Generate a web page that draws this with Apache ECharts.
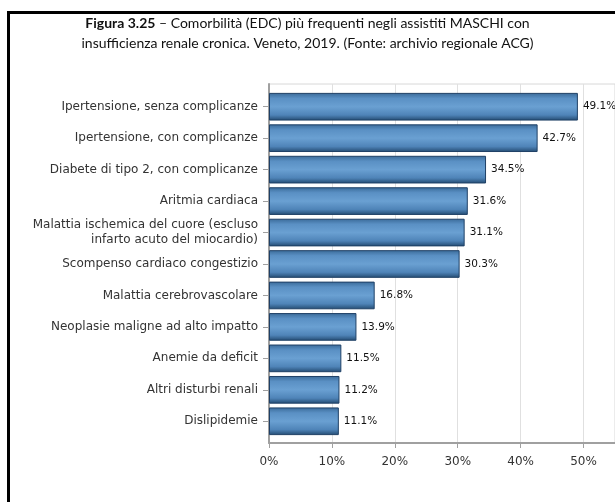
<!DOCTYPE html>
<html>
<head>
<meta charset="utf-8">
<script src="https://cdn.jsdelivr.net/npm/echarts@6/dist/echarts.min.js"></script>
<style>
  html, body { margin: 0; padding: 0; background: #fff; }
  #chart { width: 615px; height: 502px; }
</style>
</head>
<body>
<div id="chart"></div>
<script>
// categorie e valori (%)
var categorie = [
  'Ipertensione, senza complicanze',
  'Ipertensione, con complicanze',
  'Diabete di tipo 2, con complicanze',
  'Aritmia cardiaca',
  'Malattia ischemica del cuore (escluso\ninfarto acuto del miocardio)',
  'Scompenso cardiaco congestizio',
  'Malattia cerebrovascolare',
  'Neoplasie maligne ad alto impatto',
  'Anemie da deficit',
  'Altri disturbi renali',
  'Dislipidemie'
];
var valori = [49.1, 42.7, 34.5, 31.6, 31.1, 30.3, 16.8, 13.9, 11.5, 11.2, 11.1];
var tickX = [0, 10, 20, 30, 40, 50];

var chart = echarts.init(document.getElementById('chart'));

var barColor = new echarts.graphic.LinearGradient(0, 0, 0, 1, [
  { offset: 0, color: '#3a6a98' },
  { offset: 0.2, color: '#5a90c4' },
  { offset: 0.5, color: '#6aa0d2' },
  { offset: 0.8, color: '#4f84b8' },
  { offset: 1, color: '#234a70' }
]);

var option = {
  animation: false,
  textStyle: { fontFamily: 'DejaVu Sans' },
  title: {
    text: '{b|Figura 3.25} – Comorbilità (EDC) più frequenti negli assistiti MASCHI con\ninsufficienza renale cronica. Veneto, 2019. (Fonte: archivio regionale ACG)',
    left: 'center',
    top: 8,
    textStyle: {
      fontFamily: 'Lato',
      fontSize: 14,
      fontWeight: 'normal',
      color: '#111',
      lineHeight: 20,
      rich: {
        b: { fontFamily: 'Lato', fontSize: 14, fontWeight: 'bold', color: '#111', lineHeight: 20 }
      }
    }
  },
  graphic: [{
    type: 'rect',
    shape: { x: 8.5, y: 12.5, width: 700, height: 600 },
    style: { fill: 'none', stroke: '#000', lineWidth: 3 },
    silent: true
  }],
  grid: [
    // cornice del pannello con griglia e asse x
    { left: 269, top: 84, width: 351, height: 359, show: true, borderColor: '#d8d8d8', borderWidth: 1 },
    // area delle barre
    { left: 269, top: 91, width: 351, height: 346 }
  ],
  xAxis: [{
    gridIndex: 0,
    type: 'value',
    min: 0,
    max: 55,
    interval: 10,
    axisLine: { show: true, lineStyle: { color: '#a0a0a0', width: 2 } },
    axisTick: { show: true, length: 5, lineStyle: { color: '#a0a0a0' } },
    splitLine: { show: true, lineStyle: { color: '#e0e0e0' } },
    axisLabel: {
      showMaxLabel: false,
      margin: 13,
      fontSize: 12,
      color: '#333',
      formatter: function (v) { return tickX.indexOf(v) >= 0 ? v + '%' : ''; }
    }
  }, {
    gridIndex: 1,
    type: 'value',
    min: 0,
    max: 55,
    show: false
  }],
  yAxis: [{
    gridIndex: 0,
    type: 'value',
    axisLine: { show: true, lineStyle: { color: '#a0a0a0', width: 2 } },
    axisTick: { show: false },
    axisLabel: { show: false },
    splitLine: { show: false }
  }, {
    gridIndex: 1,
    type: 'category',
    inverse: true,
    data: categorie,
    axisLine: { show: false },
    axisTick: { show: true, length: 6, alignWithLabel: true, lineStyle: { color: '#a0a0a0' } },
    axisLabel: {
      fontSize: 12,
      color: '#333',
      margin: 11,
      lineHeight: 15,
      align: 'right'
    }
  }],
  series: [{
    type: 'bar',
    xAxisIndex: 1,
    yAxisIndex: 1,
    data: valori,
    barWidth: '88%',
    itemStyle: {
      color: barColor,
      borderColor: '#1f4066',
      borderWidth: 1
    },
    label: {
      show: true,
      position: 'right',
      distance: 5,
      fontSize: 10.5,
      color: '#111',
      formatter: function (p) { return p.value.toFixed(1) + '%'; }
    }
  }]
};

chart.setOption(option);
</script>
</body>
</html>
